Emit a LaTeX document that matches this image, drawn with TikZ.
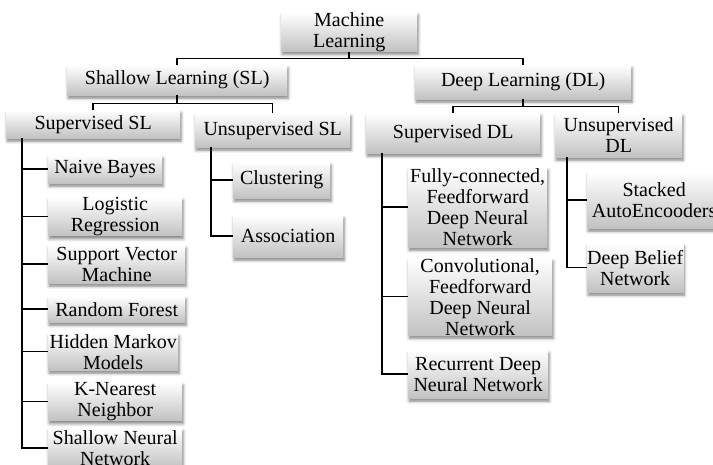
\documentclass[tikz,border=0pt]{standalone}
\usepackage{fontspec}
\setmainfont{Liberation Serif}
\usetikzlibrary{shadows,shadows.blur,calc}
\tikzset{
  box/.style={rectangle, anchor=north west, inner sep=0pt, align=center,
    top color=white, bottom color=gray!48,
    blur shadow={shadow xshift=1pt, shadow yshift=-3pt, shadow blur radius=3pt, shadow opacity=50},
    font=\fontsize{20}{21}\selectfont, text=black},
  conn/.style={line width=1.5pt, black}
}
\begin{document}
\begin{tikzpicture}[x=1pt,y=-1pt]
\useasboundingbox (0,0) rectangle (713,465);
\clip (0,0) rectangle (713,465);
% level 0
\node[box, minimum width=136pt, minimum height=38pt] (ml) at (281,12) {Machine\\Learning};
% level 1
\node[box, minimum width=220pt, minimum height=30pt] (sl) at (67,65) {Shallow Learning (SL)};
\node[box, minimum width=216pt, minimum height=34pt] (dl) at (415,65) {Deep Learning (DL)};
% level 2
\node[box, minimum width=174pt, minimum height=28pt] (ssl) at (6,110) {Supervised SL};
\node[box, minimum width=155pt, minimum height=34pt] (usl) at (195,113) {Unsupervised SL};
\node[box, minimum width=174pt, minimum height=40pt] (sdl) at (366,113) {Supervised DL};
\node[box, minimum width=127pt, minimum height=44pt] (udl) at (555,113) {Unsupervised\\DL};
% supervised SL children
\node[box, minimum width=114pt, minimum height=28pt] (nb) at (48,155) {Naive Bayes};
\node[box, minimum width=134pt, minimum height=38pt] (lr) at (48,197) {Logistic\\Regression};
\node[box, minimum width=137pt, minimum height=38pt] (svm) at (48,245) {Support Vector\\Machine};
\node[box, minimum width=137pt, minimum height=26pt] (rf) at (48,296) {Random Forest};
\node[box, minimum width=130pt, minimum height=37pt] (hmm) at (48,333) {Hidden Markov\\Models};
\node[box, minimum width=134pt, minimum height=36pt] (knn) at (48,382) {K-Nearest\\Neighbor};
\node[box, minimum width=134pt, minimum height=40pt] (snn) at (48,428) {Shallow Neural\\Network};
% unsupervised SL children
\node[box, minimum width=97pt, minimum height=36pt] (cl) at (233,162) {Clustering};
\node[box, minimum width=110pt, minimum height=42pt] (as) at (233,215) {Association};
% supervised DL children
\node[box, minimum width=139pt, minimum height=80pt] (fc) at (408,167) {Fully-connected,\\Feedforward\\Deep Neural\\Network};
\node[box, minimum width=144pt, minimum height=77pt] (cv) at (408,258) {Convolutional,\\Feedforward\\Deep Neural\\Network};
\node[box, minimum width=140pt, minimum height=48pt] (rdnn) at (408,350) {Recurrent Deep\\Neural Network};
% unsupervised DL children
\node[box, minimum width=134pt, minimum height=56pt] (sae) at (587,172) {Stacked\\AutoEncooders};
\node[box, minimum width=95pt, minimum height=49pt] (dbn) at (587,243) {Deep Belief\\Network};
% connectors
\draw[conn] (ml.south) -- ++(0,7) coordinate (mlj) -| (sl.north);
\draw[conn] (mlj) -| (dl.north);
\draw[conn] (sl.south) -- ++(0,8) coordinate (slj) -| (ssl.north);
\draw[conn] (slj) -| (usl.north);
\draw[conn] (dl.south) -- ++(0,7) coordinate (dlj) -| (sdl.north);
\draw[conn] (dlj) -| (udl.north);
\coordinate (sslv) at ($(ssl.south west)+(16,0)$);
\foreach \c in {nb,lr,svm,rf,hmm,knn,snn} \draw[conn] (sslv) |- (\c.west);
\coordinate (uslv) at ($(usl.south west)+(16,0)$);
\foreach \c in {cl,as} \draw[conn] (uslv) |- (\c.west);
\coordinate (sdlv) at ($(sdl.south west)+(16,0)$);
\foreach \c in {fc,cv,rdnn} \draw[conn] (sdlv) |- (\c.west);
\coordinate (udlv) at ($(udl.south west)+(12,0)$);
\foreach \c in {sae,dbn} \draw[conn] (udlv) |- (\c.west);
\end{tikzpicture}
\end{document}
